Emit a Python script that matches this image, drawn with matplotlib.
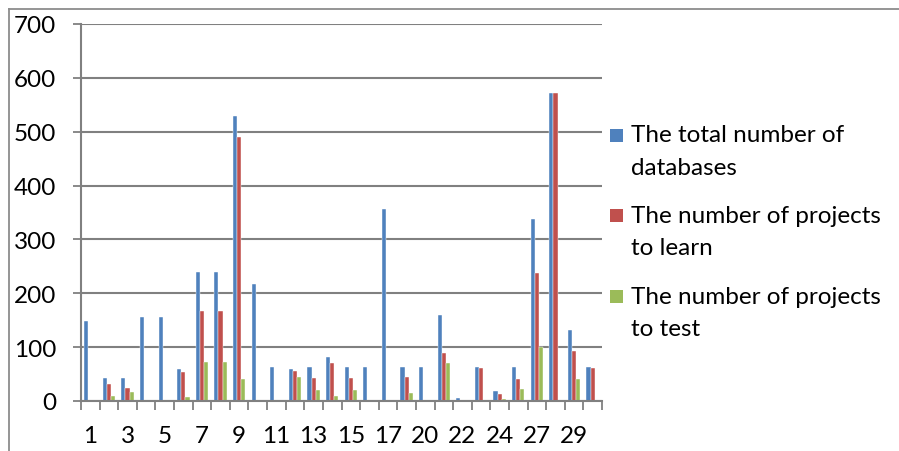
import matplotlib
matplotlib.use("Agg")
import matplotlib.pyplot as plt
from matplotlib.lines import Line2D
from matplotlib.patches import Rectangle
import numpy as np

plt.rcParams['font.family'] = ['Lato', 'DejaVu Sans']

# Data series
categories = ['1', '2', '3', '4', '5', '6', '7', '8', '9', '10', '11', '12', '13', '14',
              '15', '16', '17', '18', '20', '21', '22', '23', '24', '25', '27', '28',
              '29', '30']
total_databases = [148, 42, 42, 156, 156, 60, 240, 240, 529, 218, 63, 60, 63, 81,
                   63, 63, 356, 63, 63, 160, 5, 63, 18, 63, 338, 572, 132, 63]
projects_learn = [0, 31, 25, 0, 0, 53, 167, 167, 490, 0, 0, 55, 42, 71,
                  42, 0, 0, 45, 0, 90, 0, 62, 13, 40, 237, 572, 92, 62]
projects_test = [0, 10, 16, 0, 0, 7, 72, 72, 40, 0, 0, 45, 21, 10,
                 21, 0, 0, 15, 0, 70, 0, 0, 4, 23, 100, 0, 40, 0]
series_labels = ['The total number of\ndatabases',
                 'The number of projects\nto learn',
                 'The number of projects\nto test']
colors = ['#4F81BD', '#C0504D', '#9BBB59']
yticks = [0, 100, 200, 300, 400, 500, 600, 700]

W, H = 899, 452
fig = plt.figure(figsize=(W / 100, H / 100), dpi=100)
fig.patch.set_facecolor('white')

FS = 17.5

# plot area in pixels
x0, x1, y_top, y_bot = 81, 602, 25, 402
ax = fig.add_axes([x0 / W, 1 - y_bot / H, (x1 - x0) / W, (y_bot - y_top) / H])

grid_c = '#808080'
n = len(categories)
x = np.arange(n)
bw = 1 / 4.5
for i, (vals, c) in enumerate(zip([total_databases, projects_learn, projects_test], colors)):
    ax.bar(x + (i - 1) * bw, vals, width=bw, color=c, edgecolor='white',
           linewidth=0.3, zorder=3)

ax.set_xlim(-0.5, n - 0.5)
ax.set_ylim(0, 700)
ax.set_yticks(yticks)
ax.set_yticklabels([str(v) for v in yticks], fontsize=FS)
ax.yaxis.grid(True, color=grid_c, linewidth=1.5, zorder=0)
ax.tick_params(axis='y', length=6, width=1.3, color=grid_c, pad=12)

ax.set_xticks(x[::2])
ax.set_xticklabels(categories[::2], fontsize=FS)
ax.set_xticks(np.arange(-0.5, n, 1), minor=True)
ax.tick_params(axis='x', which='major', length=0, pad=17)
ax.tick_params(axis='x', which='minor', length=6.5, width=1.3, color=grid_c)

for s in ['top', 'right']:
    ax.spines[s].set_visible(False)
for s in ['left', 'bottom']:
    ax.spines[s].set_color(grid_c)
    ax.spines[s].set_linewidth(1.5)
    ax.spines[s].set_zorder(4)

# legend drawn beside the plot area
leg_marker_x = 610
leg_text_x = 631
baselines = [142.5, 223, 303.5]
line_gap = 32.5
for lab, c, b in zip(series_labels, colors, baselines):
    fig.patches.append(Rectangle((leg_marker_x / W, 1 - b / H),
                                 13 / W, 13 / H, transform=fig.transFigure,
                                 facecolor=c, edgecolor='none'))
    for k, line in enumerate(lab.split('\n')):
        fig.text(leg_text_x / W, 1 - (b + k * line_gap) / H, line,
                 fontsize=FS, va='baseline', ha='left', color='black')

# chart frame (top and left edges)
frame_c = '#8c8c8c'
fig.add_artist(Line2D([8.5 / W, 1], [1 - 9.5 / H, 1 - 9.5 / H],
                      transform=fig.transFigure, color=frame_c, linewidth=1.3))
fig.add_artist(Line2D([8.5 / W, 8.5 / W], [0, 1 - 9.5 / H],
                      transform=fig.transFigure, color=frame_c, linewidth=1.3))

fig.savefig('out.png', dpi=100)
